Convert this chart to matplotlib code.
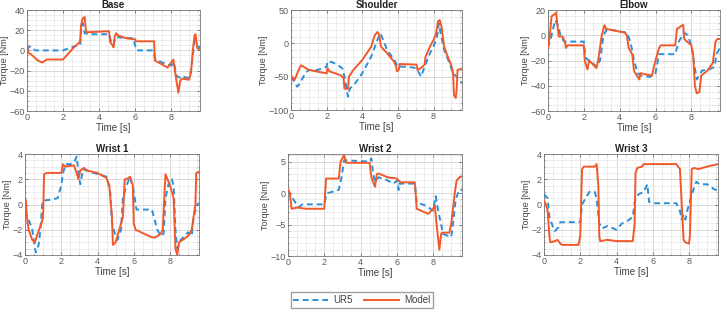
import matplotlib
matplotlib.use("Agg")
import matplotlib.pyplot as plt
from matplotlib.ticker import AutoMinorLocator
from matplotlib.lines import Line2D

plt.rcParams['font.family'] = ['Liberation Sans', 'DejaVu Sans']

# ---- data (time [s], torque [Nm]) ----
base_t_ur5 = [0, 0.1, 0.2, 0.45, 2.0, 2.3, 2.8, 2.95, 3.0, 3.1, 3.2, 3.5, 4.55, 4.65, 4.8, 4.9, 5.0, 5.9, 6.0, 6.1, 7.0, 7.1, 7.5, 8.0, 8.15, 8.3, 8.45, 8.6, 8.8, 9.0, 9.1, 9.2, 9.3, 9.35, 9.45, 9.6]
base_ur5 = [0, 3, 4, 0, 0, 2, 5, 5, 20, 27, 17, 16, 16, 10, 5, 12, 13, 12, 5, 0, 0, -8, -12, -15, -12, -25, -27, -25, -27, -27, -20, -5, 10, 8, 4, 3]
base_t_model = [0, 0.05, 0.3, 0.6, 0.85, 1.1, 2.0, 2.3, 2.6, 2.85, 2.95, 3.0, 3.1, 3.2, 3.28, 3.4, 4.55, 4.62, 4.75, 4.8, 4.87, 4.95, 5.05, 5.5, 6.0, 6.05, 7.05, 7.1, 7.5, 7.8, 8.0, 8.12, 8.25, 8.4, 8.5, 8.6, 9.0, 9.1, 9.2, 9.3, 9.35, 9.45, 9.6]
base_model = [9, -2, -5, -10, -12, -9, -9, -3, 3, 7, 9, 25, 32, 33, 18, 18, 19, 8, 5, 3, 14, 17, 15, 12, 11, 9, 9, -10, -14, -17, -12, -9, -25, -42, -30, -28, -29, -22, 0, 15, 16, 2, 1]

sh_t_ur5 = [0, 0.2, 0.35, 0.5, 0.8, 1.0, 1.5, 2.0, 2.05, 2.3, 2.6, 2.9, 3.0, 3.1, 3.2, 3.3, 3.6, 4.0, 4.5, 4.85, 5.0, 5.1, 5.4, 5.8, 6.0, 6.5, 7.0, 7.1, 7.3, 7.5, 7.8, 8.0, 8.2, 8.3, 8.4, 8.6, 8.9, 9.1, 9.3, 9.6]
sh_ur5 = [-50, -58, -65, -60, -45, -40, -40, -35, -27, -28, -32, -38, -50, -65, -80, -68, -60, -45, -20, 5, 15, 10, -10, -25, -35, -35, -37, -40, -50, -35, -15, -5, 10, 30, 15, -10, -30, -45, -50, -60]
sh_t_model = [0, 0.1, 0.2, 0.4, 0.55, 0.7, 1.0, 2.0, 2.05, 2.15, 2.8, 2.95, 3.0, 3.2, 3.25, 3.5, 4.0, 4.5, 4.7, 4.85, 4.95, 5.05, 5.4, 5.8, 5.9, 5.95, 6.05, 6.1, 7.05, 7.1, 7.3, 7.5, 7.55, 7.8, 8.0, 8.15, 8.25, 8.35, 8.45, 8.6, 8.8, 9.0, 9.1, 9.15, 9.25, 9.3, 9.35, 9.6]
sh_model = [-48, -52, -55, -42, -33, -35, -40, -45, -37, -42, -48, -52, -68, -68, -50, -40, -25, -5, 12, 17, 13, -5, -15, -28, -35, -42, -40, -31, -32, -40, -37, -32, -20, -5, 5, 15, 33, 35, 25, -5, -20, -33, -45, -78, -82, -70, -40, -38]

el_t_ur5 = [0, 0.2, 0.4, 0.55, 0.7, 0.9, 2.0, 2.1, 2.5, 2.7, 2.9, 3.1, 3.3, 4.4, 4.6, 4.8, 5.0, 5.2, 5.7, 6.0, 6.2, 7.1, 7.3, 7.6, 7.8, 8.0, 8.3, 8.6, 9.0, 9.3, 9.4, 9.6]
el_ur5 = [-10, 0, 12, 8, 0, -5, -5, -18, -22, -25, -20, 0, 5, 2, -5, -20, -30, -32, -33, -30, -15, -15, -5, 2, 0, -8, -35, -28, -27, -25, -15, -10]
el_t_model = [0, 0.1, 0.2, 0.4, 0.45, 0.55, 0.6, 0.8, 0.95, 1.0, 1.1, 2.0, 2.05, 2.2, 2.3, 2.7, 2.8, 3.0, 3.15, 3.25, 4.3, 4.4, 4.5, 4.7, 4.8, 5.0, 5.1, 5.15, 5.8, 6.0, 6.2, 6.3, 7.1, 7.2, 7.5, 7.55, 7.6, 8.0, 8.1, 8.2, 8.3, 8.45, 8.55, 8.9, 9.2, 9.35, 9.45, 9.6]
el_model = [-10, 0, 15, 17, 18, 5, -1, -1, -5, -10, -8, -8, -20, -27, -20, -26, -20, 0, 8, 5, 2, 0, -10, -15, -28, -33, -35, -30, -32, -20, -10, -8, -8, 5, 8, 8, -3, -8, -15, -40, -46, -45, -32, -28, -22, -5, -3, -3]

w1_t_ur5 = [0, 0.2, 0.4, 0.55, 0.6, 0.75, 0.85, 0.95, 1.0, 1.5, 1.8, 2.0, 2.1, 2.25, 2.5, 2.7, 2.85, 2.95, 3.05, 3.2, 4.0, 4.5, 4.7, 4.8, 5.0, 5.1, 5.3, 5.4, 5.6, 5.8, 6.0, 6.15, 7.0, 7.3, 7.5, 7.65, 7.75, 7.9, 8.0, 8.1, 8.2, 8.3, 8.4, 8.6, 9.0, 9.2, 9.3, 9.5, 9.6]
w1_ur5 = [-0.5, -1.2, -2, -3.5, -3.8, -3.2, -2, 0, 0.3, 0.4, 0.5, 1.5, 2.5, 3.2, 3.2, 3.3, 3.8, 2.5, 1.6, 2.8, 2.4, 2.2, 1, -1.5, -2.5, -2.8, -2, 0.5, 1.5, 2.2, 1.0, -0.4, -0.4, -2, -2.5, -2.3, 0.5, 1.5, 2.0, 2.0, 1.5, -2, -3.5, -2.8, -2.2, -2.5, -1, 0, 0.1]
w1_t_model = [0, 0.05, 0.1, 0.2, 0.4, 0.55, 0.65, 0.9, 1.0, 1.05, 1.2, 2.0, 2.1, 2.2, 2.7, 2.85, 2.95, 3.05, 3.25, 3.4, 4.0, 4.5, 4.65, 4.8, 4.85, 5.0, 5.2, 5.4, 5.5, 5.6, 5.8, 5.95, 6.0, 6.1, 7.0, 7.2, 7.5, 7.6, 7.75, 8.0, 8.2, 8.3, 8.4, 8.5, 9.0, 9.2, 9.3, 9.4, 9.45, 9.6]
w1_model = [0.5, 0.3, -1, -2, -2.8, -3, -2.5, -1.5, -1, 2.4, 2.5, 2.5, 3.2, 3.0, 3.1, 2.5, 2.0, 2.7, 2.9, 2.7, 2.5, 2.1, 1.5, -1.0, -3.2, -3.0, -2, -1, 2.0, 2.0, 2.2, 1.5, -1.5, -2.0, -2.6, -2.6, -2.3, -2.0, 2.4, 1.5, 0.5, -3.5, -4, -3, -2.5, -2, -1, 0, 2.5, 2.6]

w2_t_ur5 = [0, 0.2, 0.4, 0.6, 0.8, 2.0, 2.1, 2.2, 2.8, 2.95, 3.1, 4.5, 4.6, 4.7, 4.8, 5.0, 5.5, 5.8, 6.05, 6.1, 6.15, 7.0, 7.1, 7.6, 8.0, 8.15, 8.3, 8.45, 8.55, 9.0, 9.1, 9.25, 9.45, 9.6]
w2_ur5 = [0.5, -0.5, -1.5, -2.2, -1.8, -1.8, -0.5, 0, 0.5, 2.5, 5.2, 5.0, 5.5, 3.0, 1.8, 2.5, 2.0, 1.5, 2, 0.5, 1.5, 1.5, -1.5, -2, -2.8, -0.5, -3.0, -5, -6.5, -7.0, -5, -1, 0.5, 0.5]
w2_t_model = [0, 0.1, 0.2, 0.5, 1.0, 2.0, 2.1, 2.8, 2.9, 3.1, 3.2, 4.5, 4.6, 4.8, 4.9, 5.0, 5.5, 6.0, 6.1, 6.2, 7.0, 7.1, 7.5, 7.75, 8.0, 8.1, 8.2, 8.35, 8.45, 8.5, 8.9, 9.0, 9.2, 9.3, 9.5, 9.6]
w2_model = [0.5, 0, -2.5, -2.3, -2.5, -2.5, 2.3, 2.3, 5, 6, 4.8, 4.8, 2.5, 1.0, 3.0, 3.1, 2.5, 2.3, 2.0, 1.7, 1.7, -2.5, -3.0, -3.3, -2.5, -2, -5, -9, -6.5, -6.3, -6.3, -5, 0, 2, 2.6, 2.6]

w3_t_ur5 = [0, 0.2, 0.3, 0.5, 0.6, 0.8, 0.9, 1.5, 2.0, 2.1, 2.3, 2.5, 2.8, 2.9, 3.05, 3.2, 3.5, 4.0, 4.3, 4.6, 4.9, 5.0, 5.2, 5.5, 5.7, 5.8, 6.0, 7.3, 7.5, 7.6, 7.7, 7.8, 7.9, 8.2, 8.4, 8.6, 9.0, 9.4, 9.6]
w3_ur5 = [0.8, 0.5, -1.0, -1.8, -2.1, -1.8, -1.4, -1.4, -1.4, 0, 0.5, 1.0, 1.0, 0.5, -1.5, -1.9, -1.7, -2.0, -1.5, -1.3, -1.0, 0.2, 0.8, 1.0, 1.6, 0.2, 0.1, 0.1, -0.5, -1.2, -0.8, -1.2, -0.5, 1.0, 1.8, 1.6, 1.6, 1.2, 1.1]
w3_t_model = [0, 0.1, 0.2, 0.3, 0.35, 0.6, 0.75, 0.9, 1.0, 1.9, 2.0, 2.1, 2.2, 2.8, 2.9, 3.0, 3.05, 3.1, 3.5, 4.0, 4.9, 5.0, 5.05, 5.15, 5.4, 5.5, 7.3, 7.5, 7.6, 7.7, 7.8, 8.0, 8.05, 8.15, 8.3, 8.5, 9.0, 9.3, 9.6]
w3_model = [0.3, 0, -0.5, -2.5, -3.0, -2.9, -2.8, -3.1, -3.2, -3.2, -2.5, 2.8, 3.0, 3.0, 3.2, 1.5, -2.5, -2.9, -2.8, -2.9, -2.9, -1.5, 2.5, 2.9, 3.0, 3.2, 3.2, 2.8, 0, -2.8, -3.0, -3.1, -2.5, 2.8, 2.9, 2.8, 3.0, 3.1, 3.2]

titles = ['Base', 'Shoulder', 'Elbow', 'Wrist 1', 'Wrist 2', 'Wrist 3']
ylims = [(-60, 40), (-100, 50), (-60, 20), (-4, 4), (-10, 6.2), (-4, 4)]
yticks = [[-60, -40, -20, 0, 20, 40], [-100, -50, 0, 50], [-60, -40, -20, 0, 20],
          [-4, -2, 0, 2, 4], [-10, -5, 0, 5], [-4, -2, 0, 2, 4]]
xticks = [0, 2, 4, 6, 8]

series = [
    (base_t_ur5, base_ur5, base_t_model, base_model),
    (sh_t_ur5, sh_ur5, sh_t_model, sh_model),
    (el_t_ur5, el_ur5, el_t_model, el_model),
    (w1_t_ur5, w1_ur5, w1_t_model, w1_model),
    (w2_t_ur5, w2_ur5, w2_t_model, w2_model),
    (w3_t_ur5, w3_ur5, w3_t_model, w3_model),
]

# axes boxes in pixels: left, top, right, bottom
boxes = [(27, 10, 200, 111), (291, 10, 462, 110), (548, 10, 720, 111),
         (25, 154, 199, 255), (288, 154, 462, 256), (544, 154, 718, 255)]

W, H = 722, 312
blue = '#2b8fd8'
orange = '#f2592a'
txt = '#404040'

fig = plt.figure(figsize=(W / 100, H / 100), dpi=100)

for i in range(6):
    l, t, r, b = boxes[i]
    ax = fig.add_axes([l / W, 1 - b / H, (r - l) / W, (b - t) / H])
    tu, yu, tm, ym = series[i]
    ax.plot(tu, yu, color=blue, lw=1.4, linestyle=(0, (3, 2)), zorder=3)
    ax.plot(tm, ym, color=orange, lw=1.4, zorder=4)
    ax.set_xlim(0, 9.6)
    ax.set_ylim(*ylims[i])
    ax.set_xticks(xticks)
    ax.set_yticks(yticks[i])
    ax.xaxis.set_minor_locator(AutoMinorLocator())
    ax.yaxis.set_minor_locator(AutoMinorLocator())
    ax.grid(True, which='major', color='#d2d2d2', lw=0.6)
    ax.grid(True, which='minor', color='#e6e6e6', lw=0.5)
    ax.set_axisbelow(True)
    ax.tick_params(which='both', direction='in', labelsize=6.5, colors='#5a5a5a',
                   top=True, right=True, length=2, width=0.5, pad=1.5)
    ax.tick_params(which='minor', length=1)
    for s in ax.spines.values():
        s.set_color('#777777')
        s.set_linewidth(0.6)
    ax.set_title(titles[i], fontsize=7, fontweight='bold', color='#222222', pad=1.5)
    ax.set_xlabel('Time [s]', fontsize=7, color=txt, labelpad=1)
    ax.set_ylabel('Torque [Nm]', fontsize=6.5, color=txt, labelpad=0.5)

handles = [Line2D([], [], color=blue, lw=1.4, linestyle=(0, (3, 2))),
           Line2D([], [], color=orange, lw=1.4)]
fig.legend(handles, ['UR5', 'Model'], loc='center', bbox_to_anchor=(362 / W, 1 - 300 / H),
           ncol=2, fontsize=7, frameon=True, fancybox=False, edgecolor='#888888',
           handlelength=3.6, columnspacing=1.2, borderpad=0.3, handletextpad=0.5,
           labelcolor=txt)

fig.savefig('out.png', dpi=100, facecolor='white')
